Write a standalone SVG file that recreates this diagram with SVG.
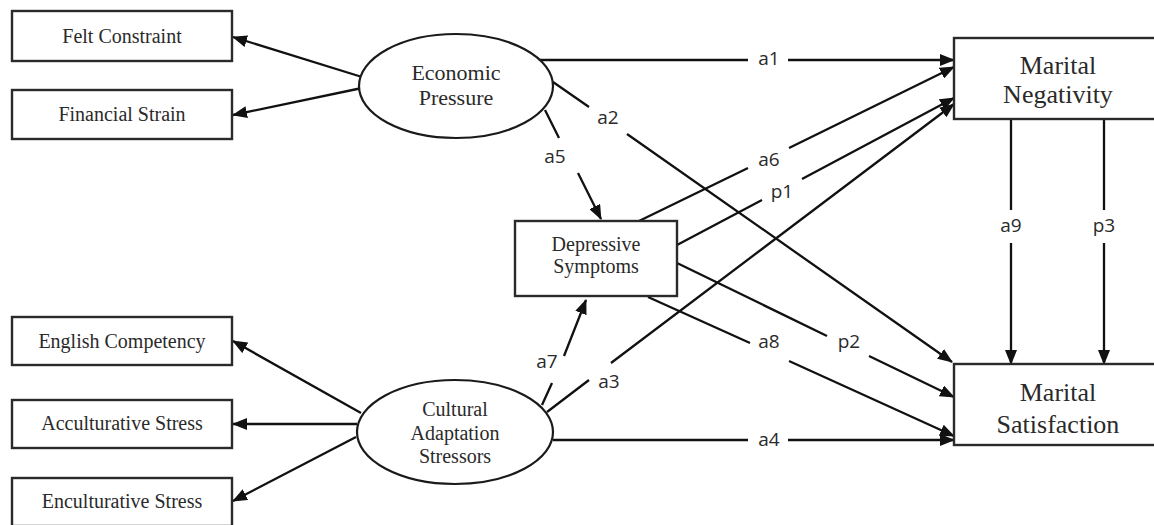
<svg xmlns="http://www.w3.org/2000/svg" width="1154" height="525" viewBox="0 0 1154 525">
<style>
.box{fill:#fff;stroke:#2a2a2a;stroke-width:2.4}
.ell{fill:#fff;stroke:#1a1a1a;stroke-width:2.2}
.t{font-family:"Liberation Serif","Times New Roman",serif;fill:#2a2a2a;text-anchor:middle}
.lbl{font-family:"Open Sans","Liberation Sans",sans-serif;font-size:19px;fill:#2a2a2a;text-anchor:middle}
.c{fill:none;stroke:#111;stroke-width:2.3}
</style>
<defs>
<marker id="ah" markerUnits="userSpaceOnUse" markerWidth="15" markerHeight="12" refX="14" refY="6" orient="auto">
<path d="M0,0 L15,6 L0,12 z" fill="#111"/>
</marker>
</defs>
<rect width="1154" height="525" fill="#fff"/>
<g id="connectors">
<path class="c" marker-end="url(#ah)" d="M362,77 L233,37"/>
<path class="c" marker-end="url(#ah)" d="M362,88 L233,115"/>
<path class="c" marker-end="url(#ah)" d="M361,413 L233,341"/>
<path class="c" marker-end="url(#ah)" d="M357,424 L233,424"/>
<path class="c" marker-end="url(#ah)" d="M356,437 L233,501"/>
<path class="c" marker-end="url(#ah)" d="M540,60 L748,60 M788,60 L954,60"/>
<path class="c" marker-end="url(#ah)" d="M553,82 L589,107 M627,134 L952,362"/>
<path class="c" marker-end="url(#ah)" d="M545,110 L559,138 M578,173 L601,219"/>
<path class="c" marker-end="url(#ah)" d="M639,221 L748,168 M789,148 L954,67"/>
<path class="c" marker-end="url(#ah)" d="M677,245 L762,200 M802,179 L954,98"/>
<path class="c" marker-end="url(#ah)" d="M547,412 L589,380 M611,363 L954,104"/>
<path class="c" marker-end="url(#ah)" d="M542,405 L552,383 M564,356 L586,300"/>
<path class="c" marker-end="url(#ah)" d="M553,440 L748,440 M788,440 L954,440"/>
<path class="c" marker-end="url(#ah)" d="M648,297 L750,343 M789,361 L954,436"/>
<path class="c" marker-end="url(#ah)" d="M677,263 L827,336 M869,356 L954,397"/>
<path class="c" marker-end="url(#ah)" d="M1011,119 L1011,210 M1011,243 L1011,364"/>
<path class="c" marker-end="url(#ah)" d="M1104,119 L1104,210 M1104,243 L1104,364"/>
<text class="lbl" x="769" y="65">a1</text>
<text class="lbl" x="608" y="124">a2</text>
<text class="lbl" x="555" y="163">a5</text>
<text class="lbl" x="769" y="166">a6</text>
<text class="lbl" x="782" y="198">p1</text>
<text class="lbl" x="1011" y="232">a9</text>
<text class="lbl" x="1104" y="232">p3</text>
<text class="lbl" x="547" y="368">a7</text>
<text class="lbl" x="609" y="388">a3</text>
<text class="lbl" x="769" y="348">a8</text>
<text class="lbl" x="849" y="348">p2</text>
<text class="lbl" x="769" y="446">a4</text>
</g>
<g id="felt"><rect class="box" x="12" y="11" width="220" height="50"/><text class="t" x="122" y="43" font-size="20">Felt Constraint</text></g>
<g id="financial"><rect class="box" x="12" y="90" width="220" height="49"/><text class="t" x="122" y="121" font-size="20">Financial Strain</text></g>
<g id="english"><rect class="box" x="12" y="317" width="220" height="48"/><text class="t" x="122" y="348" font-size="20">English Competency</text></g>
<g id="accult"><rect class="box" x="12" y="400" width="220" height="48"/><text class="t" x="122" y="430" font-size="20">Acculturative Stress</text></g>
<g id="encult"><rect class="box" x="12" y="478" width="220" height="48"/><text class="t" x="122" y="508" font-size="20">Enculturative Stress</text></g>
<g id="econ"><ellipse class="ell" cx="456" cy="86" rx="97" ry="52"/><text class="t" x="456" y="80" font-size="22">Economic</text><text class="t" x="456" y="105" font-size="22">Pressure</text></g>
<g id="cultural"><ellipse class="ell" cx="455" cy="432" rx="98" ry="52"/><text class="t" x="455" y="416" font-size="20">Cultural</text><text class="t" x="455" y="440" font-size="20">Adaptation</text><text class="t" x="455" y="463" font-size="20">Stressors</text></g>
<g id="depressive"><rect class="box" x="515" y="221" width="162" height="75"/><text class="t" x="596" y="251" font-size="20">Depressive</text><text class="t" x="596" y="273" font-size="20">Symptoms</text></g>
<g id="negativity"><rect class="box" x="954" y="38" width="210" height="81"/><text class="t" x="1058" y="74" font-size="26">Marital</text><text class="t" x="1058" y="103" font-size="26">Negativity</text></g>
<g id="satisfaction"><rect class="box" x="954" y="364" width="210" height="81"/><text class="t" x="1058" y="401" font-size="26">Marital</text><text class="t" x="1058" y="433" font-size="26">Satisfaction</text></g>
</svg>
